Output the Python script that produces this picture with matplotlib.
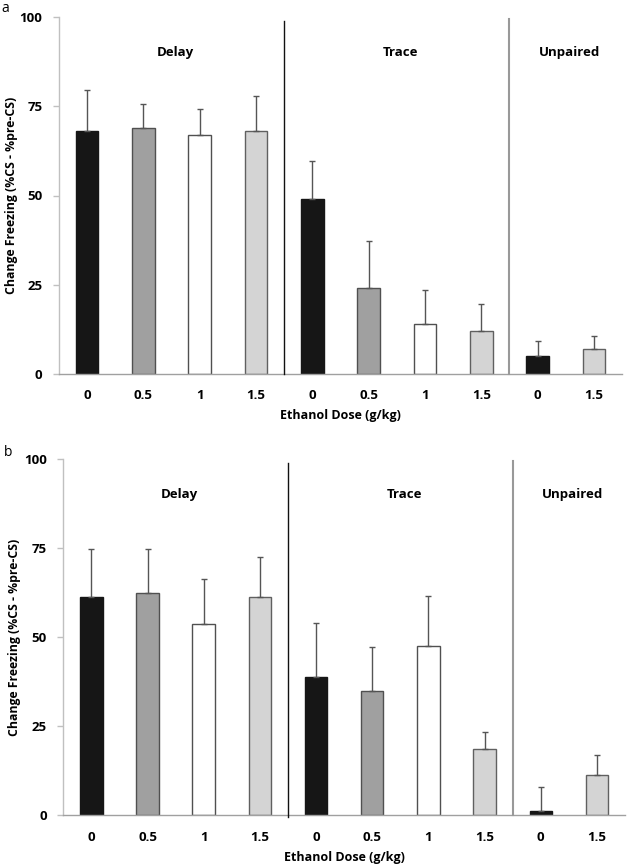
import matplotlib
matplotlib.use("Agg")
import matplotlib.pyplot as plt
import numpy as np

doses = ["0", "0.5", "1", "1.5", "0", "0.5", "1", "1.5", "0", "1.5"]
groups = ["Delay", "Trace", "Unpaired"]
group_centers = [1.5, 5.5, 8.5]
dividers = [3.5, 7.5]

means_a = [68, 69, 67, 68, 49, 24, 14, 12, 5, 7]
errtop_a = [79.6, 75.5, 74.1, 78, 59.6, 37.3, 23.4, 19.5, 9.2, 10.6]

means_b = [61.2, 62.5, 53.7, 61.2, 38.8, 35.0, 47.5, 18.6, 1.2, 11.2]
errtop_b = [74.7, 74.7, 66.3, 72.5, 53.9, 47.4, 61.7, 23.3, 8.0, 17.0]

fills = ["#161616", "#a0a0a0", "#ffffff", "#d4d4d4",
         "#161616", "#a0a0a0", "#ffffff", "#d4d4d4",
         "#161616", "#d4d4d4"]
edges = ["#161616", "#505050", "#505050", "#606060",
         "#161616", "#505050", "#505050", "#606060",
         "#161616", "#606060"]

FONT = "Open Sans"
W, H = 627, 866

fig = plt.figure(figsize=(W / 100, H / 100), dpi=100)


def panel(rect, means, errtop, letter, letter_xy, div_ext, ylab_x):
    l, t, r, b = rect
    ax = fig.add_axes([l / W, 1 - b / H, (r - l) / W, (b - t) / H])
    x = np.arange(len(means))
    upper = np.array(errtop) - np.array(means)
    yerr = np.vstack([np.zeros_like(upper), upper])
    ax.bar(x, means, width=0.4, color=fills, edgecolor=edges, linewidth=1.0, zorder=2)
    ax.errorbar(x, means, yerr=yerr, fmt="none", ecolor="#555555",
                elinewidth=1.0, capsize=2.5, capthick=1.0, zorder=3)
    ax.set_xlim(-0.5, 9.5)
    ax.set_ylim(0, 100)
    ax.set_yticks([0, 25, 50, 75, 100])
    ax.set_yticklabels(["0", "25", "50", "75", "100"], fontfamily=FONT,
                       fontweight="bold", fontsize=9.5)
    ax.set_xticks(x)
    ax.set_xticklabels(doses, fontfamily=FONT, fontweight="bold", fontsize=9.5)
    ax.tick_params(axis="x", length=0, pad=11)
    ax.tick_params(axis="y", length=4, color="#c0c0c0", width=1, pad=8)
    for s in ["top", "right"]:
        ax.spines[s].set_visible(False)
    ax.spines["left"].set_color("#c0c0c0")
    ax.spines["bottom"].set_color("#a0a0a0")
    ax.spines["left"].set_linewidth(1.0)
    ax.spines["bottom"].set_linewidth(1.0)
    ax.set_xlabel("Ethanol Dose (g/kg)", fontfamily=FONT, fontweight="bold",
                  fontsize=9, labelpad=5)
    ax.set_ylabel("Change Freezing (%CS - %pre-CS)", fontfamily=FONT,
                  fontweight="bold", fontsize=8.8)
    ax.yaxis.set_label_coords(ylab_x, 0.5)
    ax.plot([dividers[0]] * 2, div_ext, color="#111111", lw=1.0,
            clip_on=False, zorder=4)
    ax.plot([dividers[1]] * 2, [0, 99.5], color="#999999", lw=1.5,
            clip_on=False, zorder=4)
    for g, c in zip(groups, group_centers):
        ax.text(c + 0.07, 90, g, ha="center", va="center", fontfamily=FONT,
                fontweight="bold", fontsize=9.5)
    fig.text(letter_xy[0] / W, 1 - letter_xy[1] / H, letter, ha="left",
             va="center", fontfamily=FONT, fontsize=10)
    return ax


panel((59, 17, 622, 374), means_a, errtop_a, "a", (1, 8), [0, 99], -0.073)
panel((63.3, 459.3, 625, 815.3), means_b, errtop_b, "b", (4, 453), [-0.5, 99], -0.075)

fig.savefig("out.png", dpi=100)
